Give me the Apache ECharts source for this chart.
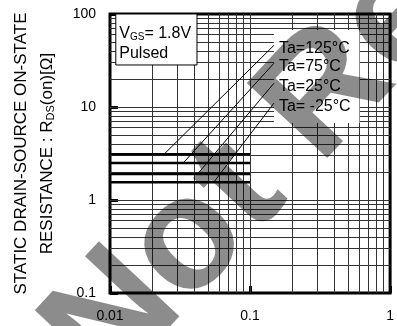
<!DOCTYPE html>
<html>
<head>
<meta charset="utf-8">
<script src="https://cdn.jsdelivr.net/npm/echarts@6/dist/echarts.min.js"></script>
<style>
  html, body { margin: 0; padding: 0; background: #fff; }
  #chart { width: 397px; height: 326px; }
</style>
</head>
<body>
<div id="chart"></div>
<script>
// axis ranges (log)
const xRange = [0.01, 1];
const yRange = [0.1, 100];

// log grid lines
const xGrid = [0.02, 0.03, 0.04, 0.05, 0.06, 0.07, 0.08, 0.09, 0.1,
               0.2, 0.3, 0.4, 0.5, 0.6, 0.7, 0.8, 0.9];
const yGrid = [0.2, 0.3, 0.4, 0.5, 0.6, 0.7, 0.8, 0.9, 1,
               2, 3, 4, 5, 6, 7, 8, 9, 10,
               20, 30, 40, 50, 60, 70, 80, 90];

// curves: drain current [A] vs R_DS(on) [Ω]
const temps = ['Ta=125°C', 'Ta=75°C', 'Ta=25°C', 'Ta= -25°C'];
const drainCurrent = [0.01, 0.1];
const rdsOn = [3.1, 2.5, 1.9, 1.55];

// leader lines from label to curve
const leaderFromX = [0.0243, 0.0333, 0.0422, 0.055];
const leaderToX = 0.148;
const leaderToY = [46, 29.5, 18, 11];

// annotation boxes (data units)
const labelBox = [[0.148, 67.3], [0.604, 6.73]];
const condBox = [[0.011, 100], [0.0418, 28.3]];

const FONT = '"Liberation Sans", Arial, sans-serif';

const chart = echarts.init(document.getElementById('chart'));

const series = [];

// grid lines
series.push({
    type: 'line',
    z: 2,
    silent: true,
    data: [],
    markLine: {
        z: 2,
        symbol: 'none',
        silent: true,
        animation: false,
        label: { show: false },
        lineStyle: { color: '#333', width: 1, type: 'solid' },
        data: xGrid.map(v => ({ xAxis: v })).concat(yGrid.map(v => ({ yAxis: v })))
    }
});

// boxes
series.push({
    type: 'line',
    z: 3,
    silent: true,
    data: [],
    markArea: {
        z: 3,
        silent: true,
        animation: false,
        data: [
            [{ coord: labelBox[0], itemStyle: { color: '#fff', opacity: 1, borderWidth: 0 }, label: { show: false } },
             { coord: labelBox[1] }],
            [{
                coord: condBox[0],
                itemStyle: { color: '#fff', opacity: 1, borderColor: '#000', borderWidth: 1 },
                label: {
                    show: true,
                    position: [4, 10],
                    formatter: '{n|V}{s|GS}{n|= 1.8V}\n{n|Pulsed}',
                    rich: {
                        n: { fontSize: 16, lineHeight: 20, color: '#000', fontFamily: FONT },
                        s: { fontSize: 10, padding: [7, 0, 0, 0], color: '#000', fontFamily: FONT }
                    }
                }
            }, { coord: condBox[1] }]
        ]
    }
});

// curves
temps.forEach((name, i) => {
    series.push({
        name: name,
        type: 'line',
        z: 4,
        symbol: 'none',
        silent: true,
        lineStyle: { color: '#000', width: 2.5 },
        data: drainCurrent.map(x => [x, rdsOn[i]])
    });
});

// leaders + labels
temps.forEach((name, i) => {
    series.push({
        name: name,
        type: 'line',
        z: 5,
        symbol: 'none',
        silent: true,
        lineStyle: { color: '#000', width: 1 },
        data: [[leaderFromX[i], rdsOn[i]], [leaderToX, leaderToY[i]]],
        endLabel: {
            show: true,
            formatter: '{a}',
            distance: 5,
            offset: [0, 3],
            fontSize: 16,
            color: '#000',
            fontFamily: FONT
        }
    });
});

const option = {
    animation: false,
    grid: {
        left: 102, right: 3, top: 14, bottom: 33,
        show: true, borderColor: '#000', borderWidth: 3, backgroundColor: '#fff'
    },
    xAxis: {
        type: 'log',
        logBase: 10,
        min: xRange[0],
        max: xRange[1],
        axisLine: { show: false },
        axisTick: { show: true, inside: true, length: 7, lineStyle: { color: '#000', width: 3 } },
        splitLine: { show: false },
        axisLabel: { fontSize: 14, color: '#000', margin: 16, fontFamily: FONT }
    },
    yAxis: {
        type: 'log',
        logBase: 10,
        min: yRange[0],
        max: yRange[1],
        axisLine: { show: false },
        axisTick: { show: true, inside: true, length: 8, lineStyle: { color: '#000', width: 3 } },
        splitLine: { show: false },
        axisLabel: { fontSize: 14, color: '#000', margin: 14, fontFamily: FONT },
        name: 'STATIC DRAIN-SOURCE ON-STATE\nRESISTANCE : R{sub|DS}(on)[Ω]',
        nameLocation: 'middle',
        nameRotate: 90,
        nameGap: 50,
        nameTextStyle: {
            fontSize: 17, lineHeight: 26, color: '#000', fontFamily: FONT,
            rich: {
                sub: { fontSize: 11, padding: [8, 0, 0, 0], color: '#000', fontFamily: FONT }
            }
        }
    },
    // watermark stamped over the whole figure
    graphic: [{
        type: 'text',
        x: 75.7,
        y: 363,
        rotation: 47 * Math.PI / 180,
        z: 100,
        silent: true,
        style: {
            text: 'Not Recommended',
            font: 'bold 160px "Liberation Sans", Arial, sans-serif',
            fill: 'rgba(0,0,0,0.45)',
            align: 'left',
            verticalAlign: 'middle'
        }
    }],
    series: series
};

chart.setOption(option);
</script>
</body>
</html>
